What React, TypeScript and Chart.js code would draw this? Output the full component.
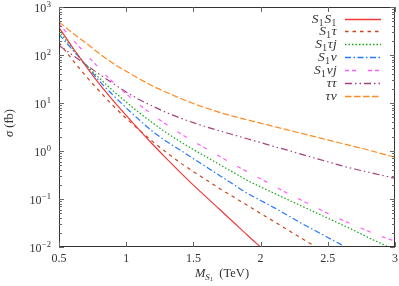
import React, { useEffect, useRef } from 'react';
import { Chart, registerables } from 'chart.js';

Chart.register(...registerables);

// Masses M_S1 in TeV
const masses = [0.5, 0.6, 0.7, 0.8, 0.9, 1.0, 1.1, 1.2, 1.3, 1.4, 1.5, 1.6, 1.7, 1.8, 1.9, 2.0, 2.1, 2.2, 2.3, 2.4, 2.5, 2.6, 2.7, 2.8, 2.9, 3.0];

// Series labels
const seriesLabels = ['S₁S₁', 'S₁τ', 'S₁τj', 'S₁ν', 'S₁νj', 'ττ', 'τν'];

// Cross sections sigma (fb)
const sigmaS1S1 = [372, 145, 58.9, 25.1, 11.5, 5.5, 2.69, 1.35, 0.692, 0.363, 0.195, 0.107, 0.0589, 0.0324, 0.0178, 0.0100, 0.00562];
const sigmaS1Tau = [182, 79.4, 36.3, 17.8, 8.91, 4.79, 2.69, 1.55, 0.933, 0.575, 0.372, 0.245, 0.162, 0.110, 0.0741, 0.0501, 0.0339, 0.0229, 0.0155, 0.0105, 0.00708];
const sigmaS1TauJ = [316, 138, 63.1, 33.1, 18.2, 10.5, 6.17, 3.80, 2.40, 1.58, 1.07, 0.741, 0.513, 0.355, 0.245, 0.178, 0.132, 0.0977, 0.0724, 0.0537, 0.0398, 0.0295, 0.0219, 0.0158, 0.0117, 0.00851];
const sigmaS1Nu = [269, 129, 61.7, 28.8, 14.8, 7.94, 4.37, 2.51, 1.58, 1.05, 0.692, 0.457, 0.302, 0.200, 0.132, 0.0933, 0.0661, 0.0457, 0.0316, 0.0224, 0.0158, 0.0112, 0.00794];
const sigmaS1NuJ = [447, 214, 105, 52.5, 27.5, 15.5, 9.12, 5.62, 3.55, 2.34, 1.58, 1.10, 0.759, 0.525, 0.372, 0.263, 0.186, 0.132, 0.0955, 0.0692, 0.0501, 0.0372, 0.0282, 0.0214, 0.0166, 0.0132];
const sigmaTauTau = [158, 100, 63.1, 39.8, 25.7, 17.0, 11.7, 8.51, 6.31, 4.90, 3.89, 3.16, 2.60, 2.16, 1.80, 1.50, 1.24, 1.04, 0.861, 0.716, 0.596, 0.495, 0.422, 0.363, 0.313, 0.269];
const sigmaTauNu = [490, 288, 178, 107, 67.6, 45.7, 31.6, 22.4, 16.6, 12.6, 9.77, 7.76, 6.31, 5.25, 4.47, 3.80, 3.24, 2.75, 2.34, 2.00, 1.70, 1.45, 1.23, 1.05, 0.881, 0.741];

const allSeries = [sigmaS1S1, sigmaS1Tau, sigmaS1TauJ, sigmaS1Nu, sigmaS1NuJ, sigmaTauTau, sigmaTauNu];

// Axis ticks
const xTickValues = [0.5, 1, 1.5, 2, 2.5, 3];
const yExponents = [-2, -1, 0, 1, 2, 3];

// Styles
const colors = ['#f23a3a', '#c8461e', '#10aa10', '#2478ff', '#ff5cff', '#a3437c', '#ff8a1f'];
const dashes: number[][] = [[], [3.5, 4], [1.5, 2], [6, 2.5, 1.5, 2.5], [4, 3, 4, 12], [7, 3, 1.5, 3, 1.5, 3], [6.5, 2.5]];

const SERIF = '"Liberation Serif", "DejaVu Serif", serif';
const TEXT = '#333';

function drawRich(ctx: CanvasRenderingContext2D, label: string, xRight: number, y: number) {
  const subMap: Record<string, string> = { '₀': '0', '₁': '1', '₂': '2' };
  const parts = Array.from(label).map((c) =>
    subMap[c] ? { t: subMap[c], font: `9.5px ${SERIF}`, dy: 3 } : { t: c, font: `italic 13.5px ${SERIF}`, dy: 0 }
  );
  let w = 0;
  for (const p of parts) { ctx.font = p.font; w += ctx.measureText(p.t).width + (p.dy ? 0.8 : 0.3); }
  let x = xRight - w;
  for (const p of parts) {
    ctx.font = p.font;
    ctx.fillText(p.t, x, y + p.dy);
    x += ctx.measureText(p.t).width + (p.dy ? 0.8 : 0.3);
  }
}

const framePlugin = {
  id: 'frame',
  afterDraw(chart: any) {
    const ctx: CanvasRenderingContext2D = chart.ctx;
    const a = chart.chartArea;
    const xs = chart.scales.x;
    const ys = chart.scales.y;
    ctx.save();
    ctx.strokeStyle = '#333';
    ctx.lineWidth = 1;
    ctx.setLineDash([]);
    ctx.strokeRect(Math.round(a.left) + 0.5, Math.round(a.top) + 0.5, Math.round(a.right - a.left) - 1, Math.round(a.bottom - a.top) - 1);
    ctx.strokeStyle = '#666';
    ctx.beginPath();
    for (const e of yExponents) {
      const py = Math.round(ys.getPixelForValue(Math.pow(10, e))) + 0.5;
      ctx.moveTo(a.left, py); ctx.lineTo(a.left + 5, py);
      ctx.moveTo(a.right, py); ctx.lineTo(a.right - 5, py);
      if (e < 3) {
        for (let m = 2; m <= 9; m++) {
          const pm = Math.round(ys.getPixelForValue(m * Math.pow(10, e))) + 0.5;
          ctx.moveTo(a.left, pm); ctx.lineTo(a.left + 3, pm);
          ctx.moveTo(a.right, pm); ctx.lineTo(a.right - 3, pm);
        }
      }
    }
    for (const v of xTickValues) {
      const px = Math.round(xs.getPixelForValue(v)) + 0.5;
      ctx.moveTo(px, a.bottom); ctx.lineTo(px, a.bottom - 5);
      ctx.moveTo(px, a.top); ctx.lineTo(px, a.top + 5);
    }
    ctx.stroke();

    // y tick labels 10^e
    ctx.fillStyle = TEXT;
    ctx.textBaseline = 'alphabetic';
    ctx.textAlign = 'left';
    for (const e of yExponents) {
      const py = ys.getPixelForValue(Math.pow(10, e));
      const expStr = e < 0 ? '\u2212' + String(-e) : String(e);
      ctx.font = `12px ${SERIF}`;
      const wBase = ctx.measureText('10').width;
      ctx.font = `8.5px ${SERIF}`;
      const wExp = ctx.measureText(expStr).width;
      const x0 = 50.5 - wBase - wExp;
      ctx.font = `12px ${SERIF}`;
      ctx.fillText('10', x0, py + 5);
      ctx.font = `8.5px ${SERIF}`;
      ctx.fillText(expStr, x0 + wBase + 0.5, py - 0.5);
    }

    // x title: M_{S1} (TeV)
    {
      const cx = 222, by = 277;
      const segs = [
        { t: 'M', font: `italic 12.5px ${SERIF}`, dy: 0 },
        { t: 'S', font: `italic 9px ${SERIF}`, dy: 2.5 },
        { t: '1', font: `6.5px ${SERIF}`, dy: 4 },
        { t: '  (TeV)', font: `12.5px ${SERIF}`, dy: 0 },
      ];
      let w = 0;
      for (const s of segs) { ctx.font = s.font; w += ctx.measureText(s.t).width; }
      let x = cx - w / 2;
      for (const s of segs) { ctx.font = s.font; ctx.fillText(s.t, x, by + s.dy); x += ctx.measureText(s.t).width; }
    }

    // y title: sigma (fb)
    {
      ctx.save();
      ctx.translate(13, 123);
      ctx.rotate(-Math.PI / 2);
      const segs = [
        { t: 'σ', font: `italic 12.5px ${SERIF}` },
        { t: ' (fb)', font: `12.5px ${SERIF}` },
      ];
      let w = 0;
      for (const s of segs) { ctx.font = s.font; w += ctx.measureText(s.t).width; }
      let x = -w / 2;
      for (const s of segs) { ctx.font = s.font; ctx.fillText(s.t, x, 0); x += ctx.measureText(s.t).width; }
      ctx.restore();
    }

    // legend
    const rowY0 = 18.5, rowStep = 12.9;
    chart.data.datasets.forEach((ds: any, i: number) => {
      const y = rowY0 + i * rowStep;
      ctx.fillStyle = TEXT;
      drawRich(ctx, ds.label, 337, y + 4);
      ctx.strokeStyle = ds.borderColor;
      ctx.lineWidth = 1.3;
      ctx.setLineDash(ds.borderDash || []);
      ctx.beginPath();
      ctx.moveTo(345, Math.round(y) + 0.5);
      ctx.lineTo(381, Math.round(y) + 0.5);
      ctx.stroke();
    });
    ctx.restore();
  },
};

export default function App() {
  const ref = useRef<HTMLCanvasElement>(null);
  useEffect(() => {
    document.body.style.margin = '0';
    const datasets = allSeries.map((vals, i) => ({
      label: seriesLabels[i],
      data: vals.map((v, j) => ({ x: masses[j], y: v })),
      borderColor: colors[i],
      borderDash: dashes[i],
      borderWidth: 1.2,
      pointRadius: 0,
      fill: false,
      cubicInterpolationMode: 'monotone' as const,
    }));
    const chart = new Chart(ref.current as HTMLCanvasElement, {
      type: 'line',
      data: { datasets },
      options: {
        animation: false,
        responsive: false,
        devicePixelRatio: 1,
        layout: { padding: { top: 7, right: 0, left: 0, bottom: 0 } },
        plugins: { legend: { display: false }, tooltip: { enabled: false } },
        scales: {
          x: {
            type: 'linear',
            min: 0.5,
            max: 3,
            grid: { display: false, drawTicks: false },
            border: { display: false },
            ticks: {
              stepSize: 0.5,
              autoSkip: false,
              maxRotation: 0,
              padding: 5,
              color: TEXT,
              font: { family: SERIF, size: 12 },
              callback: (v: any) => String(v),
            },
            afterFit: (s: any) => { s.height = 39; s.paddingRight = 4; },
          },
          y: {
            type: 'logarithmic',
            min: 0.01,
            max: 1000,
            grid: { display: false, drawTicks: false },
            border: { display: false },
            ticks: { display: false },
            afterFit: (s: any) => { s.width = 59; },
          },
        },
      },
      plugins: [framePlugin],
    });
    return () => chart.destroy();
  }, []);
  return (
    <div style={{ width: 399, height: 286 }}>
      <canvas ref={ref} width={399} height={286} style={{ display: 'block' }} />
    </div>
  );
}
